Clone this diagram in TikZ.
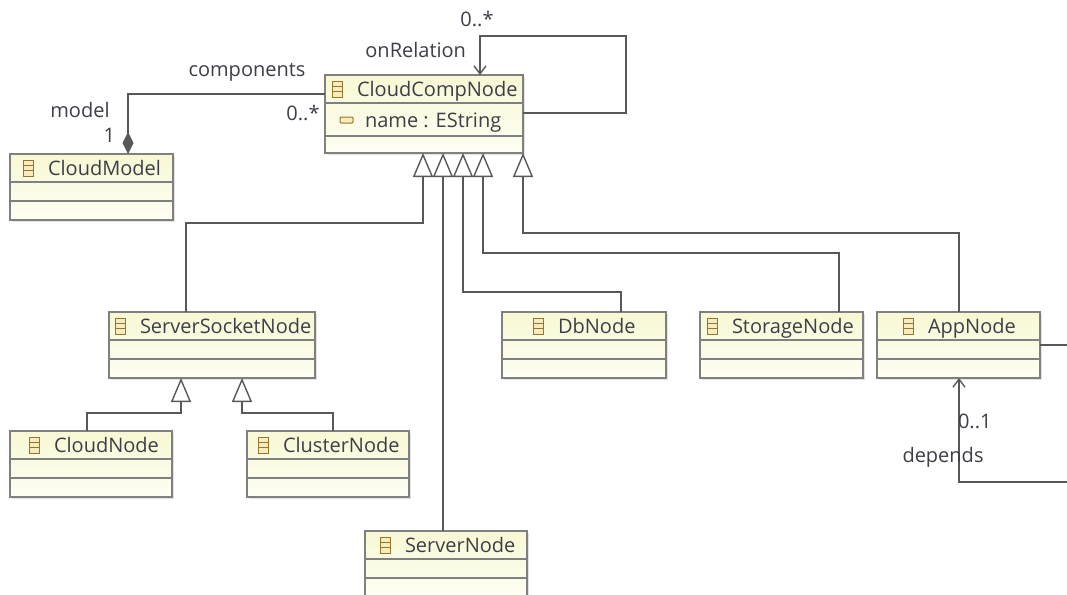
\documentclass[tikz,border=0pt]{standalone}
\usepackage{fontspec}
\setmainfont{Open Sans}
\usetikzlibrary{arrows.meta,calc,shadows}

\definecolor{boxline}{RGB}{128,128,128}
\definecolor{wire}{RGB}{88,88,88}
\definecolor{txt}{RGB}{62,62,72}
\definecolor{hdrtop}{RGB}{248,248,212}
\definecolor{bodybot}{RGB}{254,254,244}
\definecolor{iconline}{RGB}{150,118,40}
\definecolor{iconfill}{RGB}{246,236,192}

\tikzset{
  lbl/.style={text=txt, font=\fontsize{20}{23}\selectfont, inner sep=0pt, outer sep=0pt},
  classbox/.style={draw=boxline, line width=1.4pt, top color=hdrtop, bottom color=bodybot,
    inner sep=0pt, outer sep=0pt, anchor=north west,
    drop shadow={shadow xshift=1.8pt, shadow yshift=-1.8pt, opacity=0.22}},
  sepline/.style={draw=boxline, line width=1.3pt},
  classicon/.style={draw=iconline, fill=iconfill, line width=1pt},
  wireline/.style={draw=wire, line width=1.4pt},
  gen/.style={-{Triangle[open, length=24pt, width=20pt, fill=white]}},
  nav/.style={-{Straight Barb[length=8pt, width=12pt]}},
  comp/.style={{Diamond[length=22pt, width=11pt, fill=wire]}-},
}

% #1 name, #2 left, #3 top, #4 right, #5 height, #6 icon inset, #7 class name, #8 second rule
\newcommand\eclass[8]{%
  \node[classbox, minimum width={#4-#2}, minimum height={#5}] (#1) at (#2,#3) {};
  \draw[sepline] ([yshift=-28pt]#1.north west) -- ([yshift=-28pt]#1.north east);
  \draw[sepline] ([yshift=-#8pt]#1.north west) -- ([yshift=-#8pt]#1.north east);
  \draw[classicon] ([xshift=#6pt, yshift=-6pt]#1.north west)
    rectangle ([xshift=#6pt+10pt, yshift=-22pt]#1.north west);
  \draw[iconline, line width=0.9pt]
    ([xshift=#6pt, yshift=-11.3pt]#1.north west) -- ([xshift=#6pt+10pt, yshift=-11.3pt]#1.north west)
    ([xshift=#6pt, yshift=-16.7pt]#1.north west) -- ([xshift=#6pt+10pt, yshift=-16.7pt]#1.north west);
  \begin{scope}
    \clip ([xshift=0.7pt]#1.north west) rectangle ([xshift=-0.7pt, yshift=-28pt]#1.north east);
    \node[lbl, anchor=base west] (#1-title) at ([xshift=#6pt+25pt, yshift=-21pt]#1.north west) {#7};
  \end{scope}
}

\begin{document}
\begin{tikzpicture}[x=1pt, y=-1pt]
  \useasboundingbox[fill=white] (0,0) rectangle (1067,594);

  % classes
  \eclass{cc}{325}{75}{523}{78}{7}{CloudCompNode}{61}
  \eclass{cm}{10}{154}{173}{66}{13}{CloudModel}{47}
  \eclass{ssn}{109}{312}{315}{66}{6}{ServerSocketNode}{47}
  \eclass{cn}{10}{431}{172}{66}{19}{CloudNode}{47}
  \eclass{cl}{247}{431}{409}{66}{11}{ClusterNode}{47}
  \eclass{sn}{365}{531}{527}{66}{15}{ServerNode}{47}
  \eclass{db}{502}{312}{666}{66}{31}{DbNode}{47}
  \eclass{st}{700}{312}{863}{66}{7}{StorageNode}{47}
  \eclass{app}{877}{312}{1040}{66}{26}{AppNode}{47}

  % attribute of CloudCompNode
  \draw[classicon, rounded corners=1.2pt] ([xshift=15pt, yshift=-42pt]cc.north west)
    rectangle ([xshift=28pt, yshift=-48pt]cc.north west);
  \node[lbl, anchor=base west] (ccattr) at ([xshift=40pt, yshift=-52pt]cc.north west) {name : EString};

  % generalisations to CloudCompNode
  \draw[wireline, gen] ($(ssn.north west)+(77,0)$) |- ($(cc.south west)+(98,70)$) -- ($(cc.south west)+(98,0)$);
  \draw[wireline, gen] ($(sn.north west)+(78,0)$) -- ($(cc.south west)+(118,0)$);
  \draw[wireline, gen] ($(db.north west)+(119,0)$) |- ($(cc.south west)+(138,139)$) -- ($(cc.south west)+(138,0)$);
  \draw[wireline, gen] ($(st.north west)+(139,0)$) |- ($(cc.south west)+(158,100)$) -- ($(cc.south west)+(158,0)$);
  \draw[wireline, gen] ($(app.north west)+(82,0)$) |- ($(cc.south east)+(0,80)$) -- (cc.south east);

  % generalisations to ServerSocketNode
  \draw[wireline, gen] ($(cn.north west)+(77,0)$) |- ($(ssn.south west)+(72,35)$) -- ($(ssn.south west)+(72,0)$);
  \draw[wireline, gen] ($(cl.north west)+(86,0)$) |- ($(ssn.south west)+(133,35)$) -- ($(ssn.south west)+(133,0)$);

  % containment CloudModel <>-- CloudCompNode
  \draw[wireline, comp] ($(cm.north west)+(118,0)$) |- ($(cc.north west)+(0,19)$);

  % self reference onRelation
  \draw[wireline, nav] ($(cc.north east)+(0,38)$) -| ($(cc.north east)+(103,-39)$) -| ($(cc.north west)+(155,0)$);

  % AppNode reference depends
  \coordinate (appout) at (1067,345);
  \coordinate (appin) at (1067,482);
  \draw[wireline] ($(app.north east)+(0,33)$) -- (appout);
  \draw[wireline, nav] (appin) -| ($(app.south west)+(82,0)$);

  % reference labels
  \node[lbl, anchor=base] (lcomp) at (247,77) {components};
  \node[lbl, anchor=base] (lcompm) at (303,120) {0..*};
  \node[lbl, anchor=base] (lmodel) at (80,117) {model};
  \node[lbl, anchor=base east] (lmodelm) at (115,142) {1};
  \node[lbl, anchor=base east] (lrel) at (466,57) {onRelation};
  \node[lbl, anchor=base] (lrelm) at (477,27) {0..*};
  \node[lbl, anchor=base west] (ldepm) at (958,428) {0..1};
  \node[lbl, anchor=base] (ldep) at (943,462) {depends};
\end{tikzpicture}
\end{document}
